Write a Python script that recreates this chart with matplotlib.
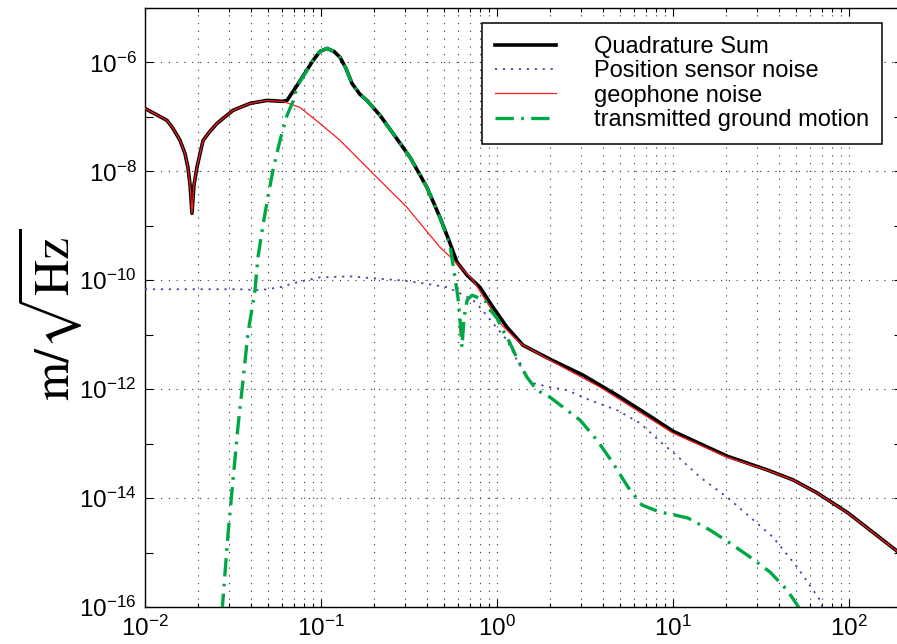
import matplotlib
matplotlib.use("Agg")
import matplotlib.pyplot as plt
from matplotlib.ticker import LogFormatterMathtext, NullFormatter, FixedLocator

plt.rcParams['font.family'] = ['Liberation Sans', 'DejaVu Sans']
plt.rcParams['mathtext.fontset'] = 'custom'
plt.rcParams['mathtext.rm'] = 'Liberation Sans'
plt.rcParams['mathtext.it'] = 'Liberation Sans:italic'
plt.rcParams['mathtext.bf'] = 'Liberation Sans:bold'

# ---------------- data (frequency in Hz, amplitude in m/sqrt(Hz)) ----------------
quad_f = [0.0100, 0.01334, 0.01442, 0.01581, 0.01686, 0.01754, 0.01804, 0.01849, 0.01897,
          0.01972, 0.02138, 0.02339, 0.02565, 0.03162, 0.03956, 0.04932, 0.06081, 0.06412,
          0.07311, 0.09016, 0.0986, 0.1082, 0.1186, 0.1283, 0.1387, 0.1500, 0.1666, 0.1823,
          0.2163, 0.2565, 0.3208, 0.3998, 0.4742, 0.5408, 0.5929, 0.6761, 0.7998, 0.9484,
          1.140, 1.406, 2.0, 3.083, 4.808, 7.396, 10.0, 20.27, 34.2, 48.08, 65.77, 98.6, 200.0]
quad_a = [1.43e-7, 8.63e-8, 6.15e-8, 3.71e-8, 2.14e-8, 1.18e-8, 5.53e-9, 1.70e-9, 5.53e-9,
          1.18e-8, 3.71e-8, 5.42e-8, 7.60e-8, 1.32e-7, 1.77e-7, 2.01e-7, 1.93e-7, 2.01e-7,
          3.79e-7, 1.09e-6, 1.59e-6, 1.81e-6, 1.59e-6, 1.24e-6, 7.76e-7, 4.12e-7, 2.59e-7,
          2.01e-7, 1.07e-7, 4.98e-8, 1.81e-8, 5.08e-9, 1.43e-9, 4.78e-10, 2.14e-10, 1.24e-10,
          7.45e-11, 3.20e-11, 1.37e-11, 6.41e-12, 3.55e-12, 1.81e-12, 7.76e-13, 3.20e-13,
          1.69e-13, 5.90e-14, 3.30e-14, 2.16e-14, 1.25e-14, 5.35e-15, 9.05e-16]

pos_f = [0.0100, 0.03467, 0.04497, 0.05847, 0.07311, 0.0986, 0.1463, 0.1971, 0.2813, 0.3802,
         0.5200, 0.6166, 0.7312, 0.7998, 0.9484, 1.140, 1.300, 1.479, 1.603, 2.0, 2.5, 3.374,
         4.808, 6.5, 8.77, 10.0, 14.22, 20.27, 27.4, 36.98, 50.7, 68.39, 72.1]
pos_a = [6.84e-11, 6.84e-11, 6.56e-11, 7.45e-11, 9.18e-11, 1.13e-10, 1.18e-10, 1.09e-10,
         1.00e-10, 8.81e-11, 7.45e-11, 5.77e-11, 4.30e-11, 3.20e-11, 1.63e-11, 7.92e-12,
         3.40e-12, 1.66e-12, 1.29e-12, 1.09e-12, 9.59e-13, 6.28e-13, 4.12e-13, 2.38e-13,
         9.80e-14, 6.98e-14, 2.43e-14, 1.04e-14, 4.48e-15, 1.92e-15, 5.42e-16, 1.34e-16, 8.1e-17]

geo_f = [0.0100, 0.01334, 0.01442, 0.01581, 0.01686, 0.01754, 0.01804, 0.01849, 0.01897,
         0.01972, 0.02138, 0.02339, 0.02565, 0.03162, 0.03956, 0.04932, 0.06081, 0.07603,
         0.0986, 0.1283, 0.1971, 0.3081, 0.4742, 0.5929, 0.7312, 1.040, 1.352, 2.0, 3.846,
         10.0, 20.27, 34.2, 48.08, 65.77, 98.6, 200.0]
geo_a = [1.43e-7, 8.63e-8, 6.15e-8, 3.71e-8, 2.14e-8, 1.18e-8, 5.53e-9, 1.69e-9, 5.53e-9,
         1.18e-8, 3.71e-8, 5.42e-8, 7.60e-8, 1.32e-7, 1.77e-7, 2.01e-7, 1.92e-7, 1.49e-7,
         7.60e-8, 3.71e-8, 9.18e-9, 2.18e-9, 4.04e-10, 2.05e-10, 1.00e-10, 1.63e-11, 6.98e-12,
         3.40e-12, 1.09e-12, 1.56e-13, 5.65e-14, 3.27e-14, 2.14e-14, 1.24e-14, 5.31e-15, 9.0e-16]

gnd_f = [0.02738, 0.02966, 0.03162, 0.03373, 0.03606, 0.03846, 0.04217, 0.04385, 0.04677,
         0.05002, 0.05332, 0.05847, 0.06412, 0.06934, 0.07311, 0.09016, 0.0986, 0.1082, 0.1186,
         0.1283, 0.1387, 0.1500, 0.1666, 0.1823, 0.2163, 0.2565, 0.3208, 0.3998, 0.4742, 0.5408,
         0.5768, 0.5998, 0.6166, 0.6324, 0.6494, 0.6761, 0.7211, 0.8551, 0.8892, 1.0, 1.081,
         1.186, 1.315, 1.479, 1.687, 2.0, 2.371, 2.965, 3.700, 4.560, 5.550, 6.668, 8.433,
         10.26, 12.16, 16.22, 21.08, 27.40, 35.56, 44.46, 51.29, 54.1]
gnd_a = [8.1e-17, 2.28e-15, 2.14e-14, 2.01e-13, 1.46e-12, 1.07e-11, 6.56e-11, 2.64e-10,
         1.02e-9, 3.48e-9, 1.04e-8, 3.71e-8, 1.07e-7, 1.92e-7, 3.63e-7, 1.09e-6, 1.59e-6,
         1.81e-6, 1.59e-6, 1.24e-6, 7.76e-7, 4.12e-7, 2.59e-7, 2.01e-7, 1.07e-7, 4.98e-8,
         1.81e-8, 5.08e-9, 1.43e-9, 4.38e-10, 1.13e-10, 4.88e-11, 1.85e-11, 5.91e-12, 2.01e-11,
         4.30e-11, 5.31e-11, 4.30e-11, 3.20e-11, 2.01e-11, 1.21e-11, 6.98e-12, 3.40e-12,
         1.66e-12, 9.59e-13, 7.13e-13, 4.68e-13, 2.70e-13, 1.16e-13, 4.39e-14, 1.59e-14,
         7.45e-15, 5.53e-15, 4.88e-15, 4.30e-15, 2.59e-15, 1.49e-15, 8.26e-16, 4.39e-16,
         2.05e-16, 1.04e-16, 7.1e-17]

labels = ['Quadrature Sum', 'Position sensor noise', 'geophone noise',
          'transmitted ground motion']
ylabel_text = r'$\mathrm{m}/\sqrt{\mathrm{Hz}}$'
xlim = (1e-2, 2e2)
ylim = (1e-16, 1e-5)
y_major = [1e-16, 1e-14, 1e-12, 1e-10, 1e-8, 1e-6]
y_minor = [1e-15, 1e-13, 1e-11, 1e-9, 1e-7, 1e-5]

# ---------------- figure ----------------
W, H = 897, 644
fig = plt.figure(figsize=(W / 100, H / 100), dpi=100)
left, right, top, bottom = 145, 902, 8, 607
ax = fig.add_axes([left / W, (H - bottom) / H, (right - left) / W, (bottom - top) / H])
ax.set_xscale('log')
ax.set_yscale('log')

l1, = ax.plot(quad_f, quad_a, color='black', lw=2.6, solid_joinstyle='round', zorder=3)
l2, = ax.plot(pos_f, pos_a, color='#4444aa', lw=1.3, linestyle=(0, (1.2, 3.2)), zorder=4)
l3, = ax.plot(geo_f, geo_a, color='#ff1a1a', lw=0.9, zorder=5)
l4, = ax.plot(gnd_f, gnd_a, color='#00a843', lw=2.4, linestyle=(0, (5.5, 2.2, 0.8, 2.2)),
              zorder=6)

ax.set_xlim(*xlim)
ax.set_ylim(*ylim)

ax.yaxis.set_major_locator(FixedLocator(y_major))
ax.yaxis.set_minor_locator(FixedLocator(y_minor))
ax.yaxis.set_major_formatter(LogFormatterMathtext())
ax.yaxis.set_minor_formatter(NullFormatter())

ax.tick_params(which='both', direction='in', top=True, right=True, labelsize=17.5,
               width=0.8, colors='black')
ax.tick_params(axis='x', which='major', length=6, pad=6)
ax.tick_params(axis='x', which='minor', length=3)
ax.tick_params(axis='y', which='both', length=6, pad=6)

ax.grid(True, axis='x', which='both', linestyle=(0, (1, 6)), color='#333333', lw=0.8)
ax.grid(True, axis='y', which='major', linestyle=(0, (1, 6)), color='#333333', lw=0.8)

for s in ax.spines.values():
    s.set_linewidth(1.0)
    s.set_color('black')

fig.text(50 / W, 1 - 315 / H, ylabel_text, fontsize=36, math_fontfamily='stix',
         rotation=90, ha='center', va='center')

leg = ax.legend([l1, l2, l3, l4], labels, loc='upper right',
                bbox_to_anchor=((882 - left) / (right - left), 1 - (23 - top) / (bottom - top)),
                borderaxespad=0, fontsize=17, frameon=True, fancybox=False, framealpha=1,
                edgecolor='black', handlelength=2.6, handletextpad=1.6, labelspacing=0.1,
                borderpad=0.55)
leg.get_frame().set_linewidth(1.1)

fig.savefig('out.png', dpi=100)
